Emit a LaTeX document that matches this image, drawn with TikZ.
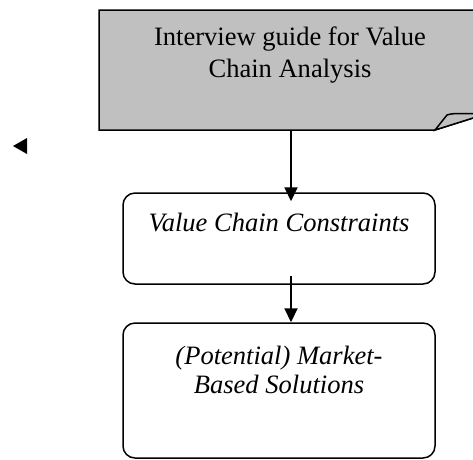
\documentclass[tikz,border=0pt]{standalone}
\usepackage{fontspec}
\setmainfont{Liberation Serif}
\usetikzlibrary{arrows.meta}
\definecolor{guidegray}{RGB}{192,192,192}

\begin{document}
\begin{tikzpicture}[x=0.2mm,y=-0.2mm,
  flowbox/.style={draw,line width=0.3mm,rounded corners=2.4mm,minimum width=62.4mm,inner sep=0pt},
  flowtext/.style={font=\fontsize{15.1pt}{16.5pt}\selectfont\itshape,align=center,inner sep=0pt,anchor=base},
  flowarrow/.style={line width=0.4mm,-{Triangle[width=2.6mm,length=2.8mm]}}]
\useasboundingbox (0,0) rectangle (473,459);
\clip (0,0) rectangle (473,459);
%top box with folded corner
\filldraw[fill=guidegray,line width=0.3mm]
(99,10) -- (500,10) -- (500,109.5) -- (435,130) -- (99,130) -- cycle;
\filldraw[fill=guidegray,line width=0.3mm]
(435,130) -- (447,115) .. controls (455,112) and (466,115) .. (500,113) -- (500,109.5) -- cycle;
\node [font=\fontsize{15.1pt}{18.2pt}\selectfont,align=center,inner sep=0pt,anchor=base]
(guide) at (290,77) {Interview guide for Value\\Chain Analysis};
\coordinate (guidebottom) at (291,130);
%boxes
\node [flowbox,minimum height=18.2mm] (constraints) at (279,238.5) {};
\node [flowbox,minimum height=27mm] (solutions) at (279,390.5) {};
\node [flowtext] (constraintstext) at (279,231) {Value Chain Constraints};
\node [flowtext] (solutionstext) at (279,393) {(Potential) Market-\\Based Solutions};
%arrows
\draw [flowarrow] (guidebottom) -- ([yshift=-1.8mm]constraints.north -| guidebottom);
\draw [flowarrow] ([yshift=1.8mm]constraints.south -| guidebottom) -- (solutions.north -| guidebottom);
%lone arrow tip
\fill (13,146) -- (27,138) -- (27,154) -- cycle;
\end{tikzpicture}
\end{document}
